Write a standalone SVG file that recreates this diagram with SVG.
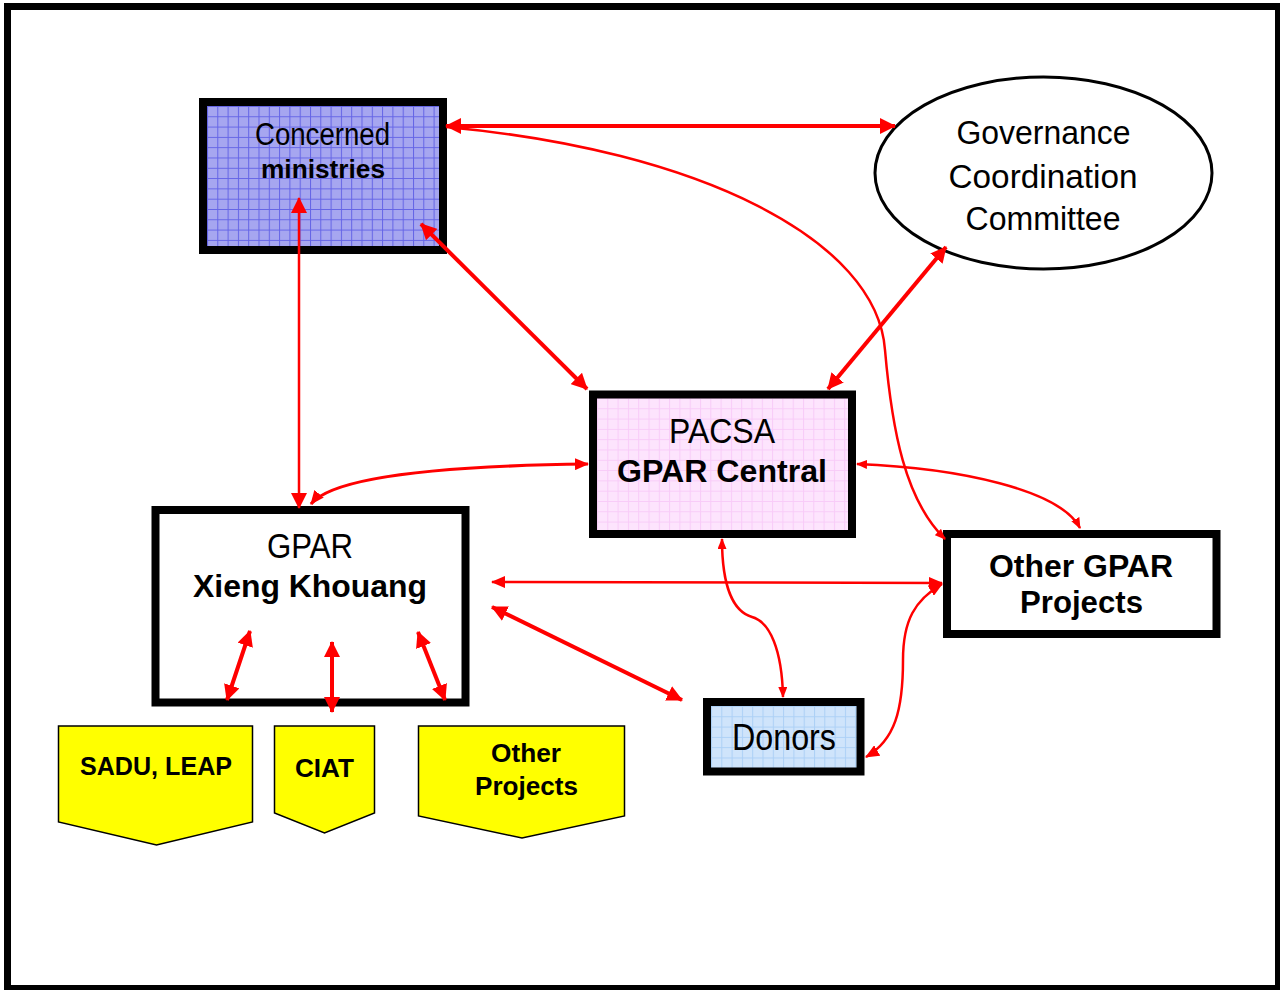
<svg xmlns="http://www.w3.org/2000/svg" width="1280" height="990" viewBox="0 0 1280 990">
<style>
.reg{font-family:"Liberation Sans",Arial,sans-serif;font-weight:normal;fill:#000;text-anchor:middle}
.bold{font-family:"Liberation Sans",Arial,sans-serif;font-weight:bold;fill:#000;text-anchor:middle}
.box{stroke:#000;stroke-width:8}
.flag{fill:#ffff00;stroke:#000;stroke-width:1.5;stroke-linejoin:miter}
.thick{fill:none;stroke:#ff0000;stroke-width:4}
.mid{fill:none;stroke:#ff0000;stroke-width:3.2}
.thin{fill:none;stroke:#ff0000;stroke-width:2.5}
</style>
<defs>
<pattern id="gridBlue" patternUnits="userSpaceOnUse" x="207" y="106" width="10.3" height="10.3">
<rect width="10.3" height="10.3" fill="#a6a6f0"/>
<path d="M0,0.5 H10.3 M0.5,0 V10.3" stroke="#6464e6" stroke-width="1"/>
</pattern>
<pattern id="gridPink" patternUnits="userSpaceOnUse" x="597" y="398" width="10.3" height="10.3">
<rect width="10.3" height="10.3" fill="#fde4fd"/>
<path d="M0,0.5 H10.3 M0.5,0 V10.3" stroke="#f8cbf8" stroke-width="1"/>
</pattern>
<pattern id="gridSky" patternUnits="userSpaceOnUse" x="711" y="706" width="10.3" height="10.3">
<rect width="10.3" height="10.3" fill="#cfe4fb"/>
<path d="M0,0.5 H10.3 M0.5,0 V10.3" stroke="#acd0f6" stroke-width="1"/>
</pattern>
<marker id="big" viewBox="0 0 16 16" refX="15" refY="8" markerWidth="16" markerHeight="16" markerUnits="userSpaceOnUse" orient="auto-start-reverse">
<path d="M0,0 L16,8 L0,16 z" fill="#ff0000"/>
</marker>
<marker id="med" viewBox="0 0 14 12" refX="13" refY="6" markerWidth="14" markerHeight="12" markerUnits="userSpaceOnUse" orient="auto-start-reverse">
<path d="M0,0 L14,6 L0,12 z" fill="#ff0000"/>
</marker>
<marker id="small" viewBox="0 0 11 9" refX="10" refY="4.5" markerWidth="11" markerHeight="9" markerUnits="userSpaceOnUse" orient="auto-start-reverse">
<path d="M0,0 L11,4.5 L0,9 z" fill="#ff0000"/>
</marker>
</defs>

<rect x="0" y="0" width="1280" height="990" fill="#ffffff"/>
<rect x="7.5" y="6.5" width="1271" height="982" fill="none" stroke="#000" stroke-width="7"/>

<g id="concerned-ministries">
<rect class="box" x="203" y="102" width="240" height="148" fill="url(#gridBlue)"/>
<text class="reg" x="322.5" y="145" font-size="31" textLength="135" lengthAdjust="spacingAndGlyphs">Concerned</text>
<text class="bold" x="323" y="178" font-size="26" textLength="124" lengthAdjust="spacingAndGlyphs">ministries</text>
</g>

<g id="governance-committee">
<ellipse cx="1043.5" cy="173" rx="168.5" ry="96" fill="#ffffff" stroke="#000" stroke-width="3"/>
<text class="reg" x="1043.5" y="144" font-size="33" textLength="174" lengthAdjust="spacingAndGlyphs">Governance</text>
<text class="reg" x="1043" y="188" font-size="33" textLength="189" lengthAdjust="spacingAndGlyphs">Coordination</text>
<text class="reg" x="1043" y="230" font-size="33" textLength="155" lengthAdjust="spacingAndGlyphs">Committee</text>
</g>

<g id="pacsa">
<rect class="box" x="593" y="394.5" width="259" height="139.5" fill="url(#gridPink)"/>
<text class="reg" x="722" y="443" font-size="35" textLength="106" lengthAdjust="spacingAndGlyphs">PACSA</text>
<text class="bold" x="722" y="482" font-size="32" textLength="210" lengthAdjust="spacingAndGlyphs">GPAR Central</text>
</g>

<g id="gpar-xieng-khouang">
<rect class="box" x="155.5" y="510" width="310" height="192.5" fill="#ffffff"/>
<text class="reg" x="310" y="558" font-size="35" textLength="86" lengthAdjust="spacingAndGlyphs">GPAR</text>
<text class="bold" x="310" y="597" font-size="32" textLength="234" lengthAdjust="spacingAndGlyphs">Xieng Khouang</text>
</g>

<g id="other-gpar-projects">
<rect class="box" x="947" y="534" width="269.5" height="100" fill="#ffffff"/>
<text class="bold" x="1081" y="577" font-size="31" textLength="184" lengthAdjust="spacingAndGlyphs">Other GPAR</text>
<text class="bold" x="1081.5" y="613" font-size="31" textLength="123" lengthAdjust="spacingAndGlyphs">Projects</text>
</g>

<g id="donors">
<rect class="box" x="707" y="702" width="153.5" height="69.5" fill="url(#gridSky)"/>
<text class="reg" x="784" y="750" font-size="37" textLength="104" lengthAdjust="spacingAndGlyphs">Donors</text>
</g>

<g id="sadu-leap">
<polygon class="flag" points="58.5,726 252.5,726 252.5,822 156.5,845 58.5,822"/>
<text class="bold" x="156" y="775" font-size="25" textLength="152" lengthAdjust="spacingAndGlyphs">SADU, LEAP</text>
</g>

<g id="ciat">
<polygon class="flag" points="274.5,726 374.5,726 374.5,813 324.5,833 274.5,813"/>
<text class="bold" x="324.5" y="777" font-size="25" textLength="59" lengthAdjust="spacingAndGlyphs">CIAT</text>
</g>

<g id="other-projects">
<polygon class="flag" points="418.5,726 624.5,726 624.5,816 522,838 418.5,816"/>
<text class="bold" x="526" y="762" font-size="26" textLength="70" lengthAdjust="spacingAndGlyphs">Other</text>
<text class="bold" x="526.5" y="795" font-size="26" textLength="103" lengthAdjust="spacingAndGlyphs">Projects</text>
</g>

<g id="connectors">
<path class="thick" d="M446,126 H895" marker-start="url(#big)" marker-end="url(#big)"/>
<path class="thin" d="M446,127 C700,150 877,240 885,350 C892,430 905,500 945,539" marker-end="url(#small)"/>
<path class="thick" d="M421,224 L587,389" marker-start="url(#big)" marker-end="url(#big)"/>
<path class="thick" d="M946,247 L828,389" marker-start="url(#big)" marker-end="url(#big)"/>
<path class="thin" d="M299,198 V508" marker-start="url(#big)" marker-end="url(#big)"/>
<path class="mid" d="M588,464 C420,466 330,480 311,504" marker-start="url(#med)" marker-end="url(#med)"/>
<path class="thin" d="M857,464 C960,468 1060,490 1080,528" marker-start="url(#small)" marker-end="url(#small)"/>
<path class="thin" d="M492,582 L942,583" marker-start="url(#med)" marker-end="url(#med)"/>
<path class="thick" d="M492,607 L682,700" marker-start="url(#big)" marker-end="url(#big)"/>
<path class="thin" d="M722,539 C722,590 735,612 752,617 C770,622 782,650 783,697" marker-start="url(#small)" marker-end="url(#small)"/>
<path class="thin" d="M866,757 C895,740 903,710 903,660 C903,620 915,600 942,584" marker-start="url(#med)" marker-end="url(#med)"/>
<path class="thick" d="M250,631 L227,700" marker-start="url(#big)" marker-end="url(#big)"/>
<path class="thick" d="M332,642 V712" marker-start="url(#big)" marker-end="url(#big)"/>
<path class="thick" d="M418,632 L445,700" marker-start="url(#big)" marker-end="url(#big)"/>
</g>
</svg>
